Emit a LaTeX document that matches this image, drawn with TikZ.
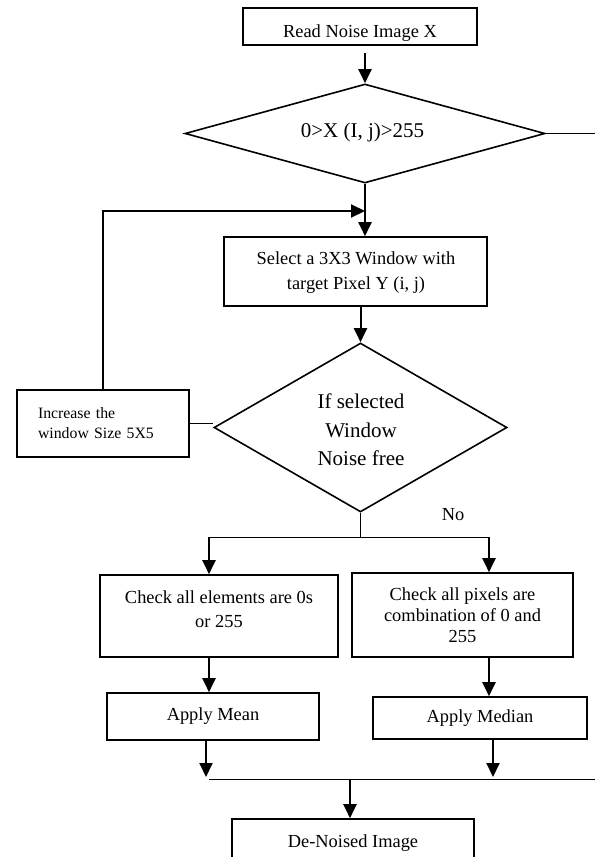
\documentclass[tikz,border=0pt]{standalone}
\usepackage{fontspec}
\setmainfont{Liberation Serif}
\usetikzlibrary{arrows.meta,shapes.geometric}
\begin{document}
\begin{tikzpicture}[x=1pt,y=-1pt,
  box/.style={draw, line width=1.6pt, rectangle, inner sep=0pt, align=center, font=\fontsize{18.4}{22}\selectfont},
  dia/.style={draw, line width=1.6pt, diamond, inner sep=0pt, align=center},
  txt/.style={inner sep=0pt, align=center, font=\fontsize{18.4}{22}\selectfont},
  arr/.style={line width=2pt, -{Triangle[length=14pt,width=13pt]}},
  thinl/.style={line width=1pt}]
\useasboundingbox (0,0) rectangle (595,857);
\clip (0,0) rectangle (595,857);

% top box
\node[box, minimum width=234pt, minimum height=37pt] (read) at (360,26.5) {};
\node[txt, anchor=base] (readt) at (360,37) {Read Noise Image X};

% first decision
\node[dia, aspect=3.64, minimum width=360pt, minimum height=99pt] (d1) at (365,133.5) {};
\node[txt, anchor=base, font=\fontsize{21}{25}\selectfont] (d1t) at (362.5,137.5) {0>X (I, j)>255};
\coordinate (d1r) at (595,133.5);

% select window
\node[box, font=\fontsize{18.4}{25}\selectfont, minimum width=263pt, minimum height=69pt] (sel) at (355.5,271.5) {};
\node[txt, font=\fontsize{18.4}{25}\selectfont] (selt) at (356,273) {Select a 3X3 Window with\\target Pixel Y (i, j)};

% second decision
\node[dia, aspect=1.73, minimum width=293pt, minimum height=169pt] (d2) at (360.5,427.5) {};
\node[txt, font=\fontsize{21}{28.5}\selectfont] (d2t) at (361,430) {If selected\\Window\\Noise free};

% increase window
\node[box, minimum width=172pt, minimum height=67pt, font=\fontsize{15.8}{20}\selectfont, align=left, text width=130pt] (inc) at (103,423.5) {Increase the\\window Size 5X5};

% branches
\coordinate (spL) at (209,537);
\coordinate (spR) at (489,537);
\node[txt, anchor=base] (no) at (453,520) {No};

\node[box, minimum width=238pt, minimum height=82pt] (chk1) at (219,616) {};
\node[txt, font=\fontsize{18.4}{24}\selectfont] (chk1t) at (219,609) {Check all elements are 0s\\or 255};

\node[box, minimum width=221pt, minimum height=84pt, font=\fontsize{18.4}{21}\selectfont] (chk2) at (462.5,615) {Check all pixels are\\combination of 0 and\\255};

\node[box, minimum width=212pt, minimum height=47pt] (mean) at (213,716.5) {Apply Mean};
\node[box, minimum width=214pt, minimum height=42pt] (median) at (480,718) {Apply Median};

\coordinate (jL) at (206,777);
\coordinate (jR) at (493,777);
\coordinate (hL) at (209,779);
\coordinate (hR) at (595,779);
\coordinate (jm) at (350,779);

\node[box, minimum width=242pt, minimum height=60pt] (out) at (353,849) {};
\node[txt, anchor=base] (outt) at (353,847) {De-Noised Image};

% connectors
\draw[arr] ([yshift=-7pt]read.south -| d1.north) -- (d1.north);
\draw[thinl] (d1.east) -- (d1r);
\draw[arr] (d1.south) -- (d1.south |- sel.north);
\coordinate (lt) at (365,211);
\draw[arr] (inc.north) |- (lt);
\draw[arr] (sel.south -| d2.north) -- (d2.north);
\draw[thinl] (inc.east) -- (inc.east -| d2.west);
\draw[thinl] (d2.south) -- (d2.south |- spL);
\draw[thinl] (spL) -- (spR);
\draw[arr] (spL) -- (spL |- chk1.north);
\draw[arr] (spR) -- (spR |- chk2.north);
\draw[arr] (chk1.south -| spL) -- (spL |- mean.north);
\draw[arr] (chk2.south -| spR) -- (spR |- median.north);
\draw[arr] (mean.south -| jL) -- (jL);
\draw[arr] (median.south -| jR) -- (jR);
\draw[thinl] (hL) -- (hR);
\draw[arr] (jm) -- (jm |- out.north);
\end{tikzpicture}
\end{document}
